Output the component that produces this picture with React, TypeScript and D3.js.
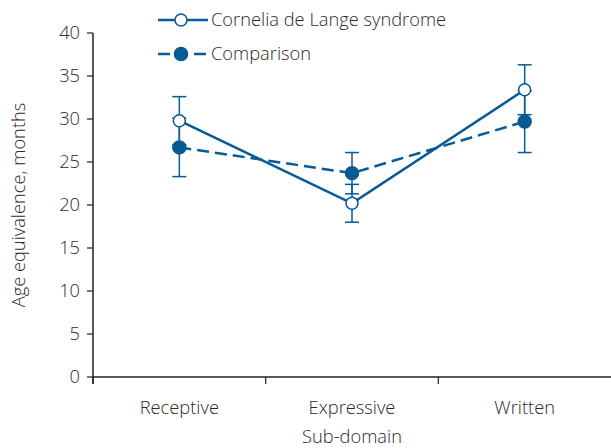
import React from 'react';
import * as d3 from 'd3';

const categories = ['Receptive', 'Expressive', 'Written'];
const cdlsValues = [29.8, 20.2, 33.4];
const cdlsErrors = [2.8, 2.2, 2.9];
const compValues = [26.7, 23.7, 29.7];
const compErrors = [3.4, 2.4, 3.6];
const yTicks = [0, 5, 10, 15, 20, 25, 30, 35, 40];

const W = 611;
const H = 448;
const blue = '#065a96';
const axisColor = '#231f20';
const textColor = '#2b2b2b';
const font = '"Open Sans", "Noto Sans", sans-serif';
const fs = 18.3;

const App = () => {
  const margin = { top: 33, right: 0, bottom: 71, left: 93 };
  const x = d3.scaleBand().domain(categories).range([margin.left, W - margin.right]);
  const y = d3.scaleLinear().domain([0, 40]).range([H - margin.bottom, margin.top]);
  const cx = (c: string) => (x(c) as number) + x.bandwidth() / 2;

  const line = d3.line<number>()
    .x((_, i) => cx(categories[i]))
    .y(d => y(d));

  const series = [
    { name: 'Cornelia de Lange syndrome', values: cdlsValues, errors: cdlsErrors, dash: null, fill: '#fff' },
    { name: 'Comparison', values: compValues, errors: compErrors, dash: '12,6', fill: blue },
  ];

  const y0 = y(0);

  return (
    <svg width={W} height={H} style={{ position: 'absolute', left: 0, top: 0 }} fontFamily={font} fontWeight={300}>
      {/* axes */}
      <line x1={margin.left} x2={margin.left} y1={y(40)} y2={y0 + 7} stroke={axisColor} strokeWidth={1.5} />
      <line x1={margin.left} x2={W} y1={y0} y2={y0} stroke={axisColor} strokeWidth={1.5} />
      {yTicks.map(t => (
        <g key={t}>
          <line x1={margin.left - 6} x2={margin.left} y1={y(t)} y2={y(t)} stroke={axisColor} strokeWidth={1.2} />
          <text x={margin.left - 13} y={y(t)} dy="0.35em" textAnchor="end" fontSize={fs} fill={textColor}>{t}</text>
        </g>
      ))}
      {categories.map(c => (
        <g key={c}>
          <line x1={x(c)} x2={x(c)} y1={y0} y2={y0 + 7} stroke={axisColor} strokeWidth={1.2} />
          <text x={cx(c)} y={y0 + 37} textAnchor="middle" fontSize={fs} fill={textColor}>{c}</text>
        </g>
      ))}
      <text x={352} y={443} textAnchor="middle" fontSize={fs} fill={textColor}>Sub-domain</text>
      <text transform={`translate(25, ${(y(40) + y0) / 2}) rotate(-90)`} textAnchor="middle" fontSize={fs} fill={textColor}>
        Age equivalence, months
      </text>

      {/* error bars */}
      {series.map(s => s.values.map((v, i) => {
        const px = cx(categories[i]);
        const top = y(v + s.errors[i]);
        const bot = y(v - s.errors[i]);
        return (
          <g key={s.name + i} stroke={blue} strokeWidth={1.5}>
            <line x1={px} x2={px} y1={top} y2={bot} />
            <line x1={px - 7} x2={px + 7} y1={top} y2={top} />
            <line x1={px - 7} x2={px + 7} y1={bot} y2={bot} />
          </g>
        );
      }))}

      {/* lines */}
      {series.map(s => (
        <path key={s.name} d={line(s.values) || ''} fill="none" stroke={blue} strokeWidth={2.5}
          strokeDasharray={s.dash || undefined} />
      ))}

      {/* markers */}
      {series.map(s => s.values.map((v, i) => (
        <circle key={s.name + 'm' + i} cx={cx(categories[i])} cy={y(v)} r={s.fill === blue ? 6.5 : 6}
          fill={s.fill} stroke={blue} strokeWidth={1.5} />
      )))}

      {/* legend */}
      <g>
        <line x1={158} x2={208} y1={20} y2={20} stroke={blue} strokeWidth={2.5} />
        <circle cx={181} cy={20} r={6} fill="#fff" stroke={blue} strokeWidth={1.5} />
        <text x={211} y={20} dy="0.35em" fontSize={fs} fill={textColor}>{series[0].name}</text>
        <line x1={158} x2={208} y1={54} y2={54} stroke={blue} strokeWidth={2.5} strokeDasharray="12,6" />
        <circle cx={181} cy={54} r={6.5} fill={blue} stroke={blue} strokeWidth={1.5} />
        <text x={211} y={54} dy="0.35em" fontSize={fs} fill={textColor}>{series[1].name}</text>
      </g>
    </svg>
  );
};

export default App;
